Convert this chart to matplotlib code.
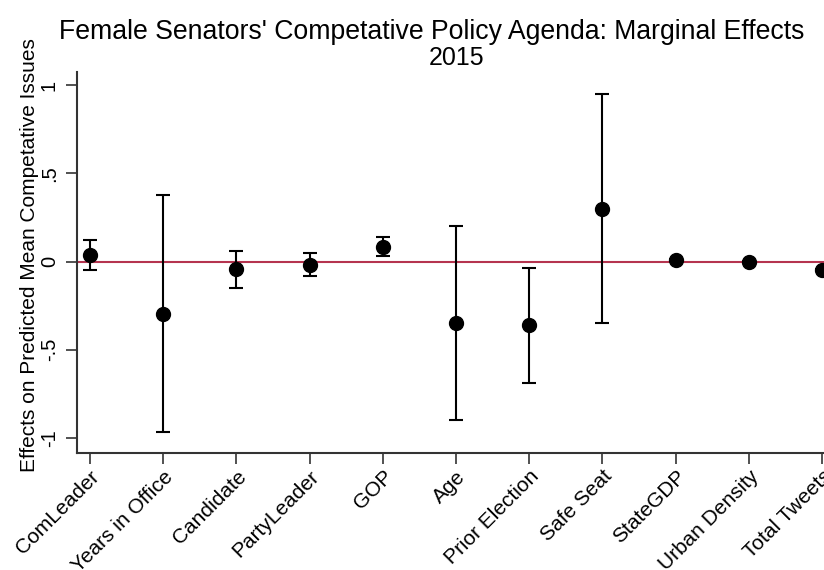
import matplotlib
matplotlib.use("Agg")
import matplotlib.pyplot as plt
import numpy as np

plt.rcParams['font.family'] = ['Liberation Sans', 'DejaVu Sans']

categories = ["ComLeader", "Years in Office", "Candidate", "PartyLeader", "GOP", "Age",
              "Prior Election", "Safe Seat", "StateGDP", "Urban Density", "Total Tweets"]
effects = [0.035, -0.295, -0.045, -0.02, 0.085, -0.35, -0.36, 0.30, 0.01, 0.0, -0.05]
ci_low = [-0.05, -0.965, -0.15, -0.08, 0.03, -0.90, -0.69, -0.35, 0.005, -0.005, -0.055]
ci_high = [0.12, 0.375, 0.06, 0.05, 0.14, 0.20, -0.035, 0.95, 0.015, 0.005, -0.045]
yticks = [-1, -0.5, 0, 0.5, 1]
ytick_labels = ["-1", "-.5", "0", ".5", "1"]

W, H = 824, 570
fig = plt.figure(figsize=(W/100, H/100), dpi=100)
left, right, top, bottom = 77, 845, 72, 453
ax = fig.add_axes([left/W, 1 - bottom/H, (right-left)/W, (bottom-top)/H])

x = np.arange(1, len(categories) + 1)
ax.axhline(0, color='#b5344f', lw=1.5, zorder=1)
yerr = [np.array(effects) - np.array(ci_low), np.array(ci_high) - np.array(effects)]
ax.errorbar(x, effects, yerr=yerr, fmt='o', color='black', ms=10, elinewidth=1.5,
            capsize=5, capthick=1.5, zorder=3)

pxu = 73.2
ax.set_xlim(1 - 13/pxu, 1 - 13/pxu + (right-left)/pxu)
ax.set_ylim(-1.085, 1.074)
ax.set_xticks(x)
ax.set_xticklabels(categories, rotation=45, ha='right', rotation_mode='anchor', fontsize=15)
ax.set_yticks(yticks)
ax.set_yticklabels(ytick_labels, rotation=90, va='center', fontsize=14.5)
ax.tick_params(axis='both', length=8, width=1.2, color='#333333')
ax.tick_params(axis='y', pad=5)
ax.tick_params(axis='x', pad=2)
for s in ['top', 'right']:
    ax.spines[s].set_visible(False)
for s in ['left', 'bottom']:
    ax.spines[s].set_color('#333333')
    ax.spines[s].set_linewidth(1.5)
ax.set_ylabel("Effects on Predicted Mean Competative Issues", fontsize=15)
ax.yaxis.set_label_coords(-0.05, 0.52)

fig.text(432/W, 1 - 32/H, "Female Senators' Competative Policy Agenda: Marginal Effects",
         ha='center', va='center', fontsize=19.2)
fig.text(457/W, 1 - 58/H, "2015", ha='center', va='center', fontsize=18)

fig.savefig("out.png", dpi=100)
